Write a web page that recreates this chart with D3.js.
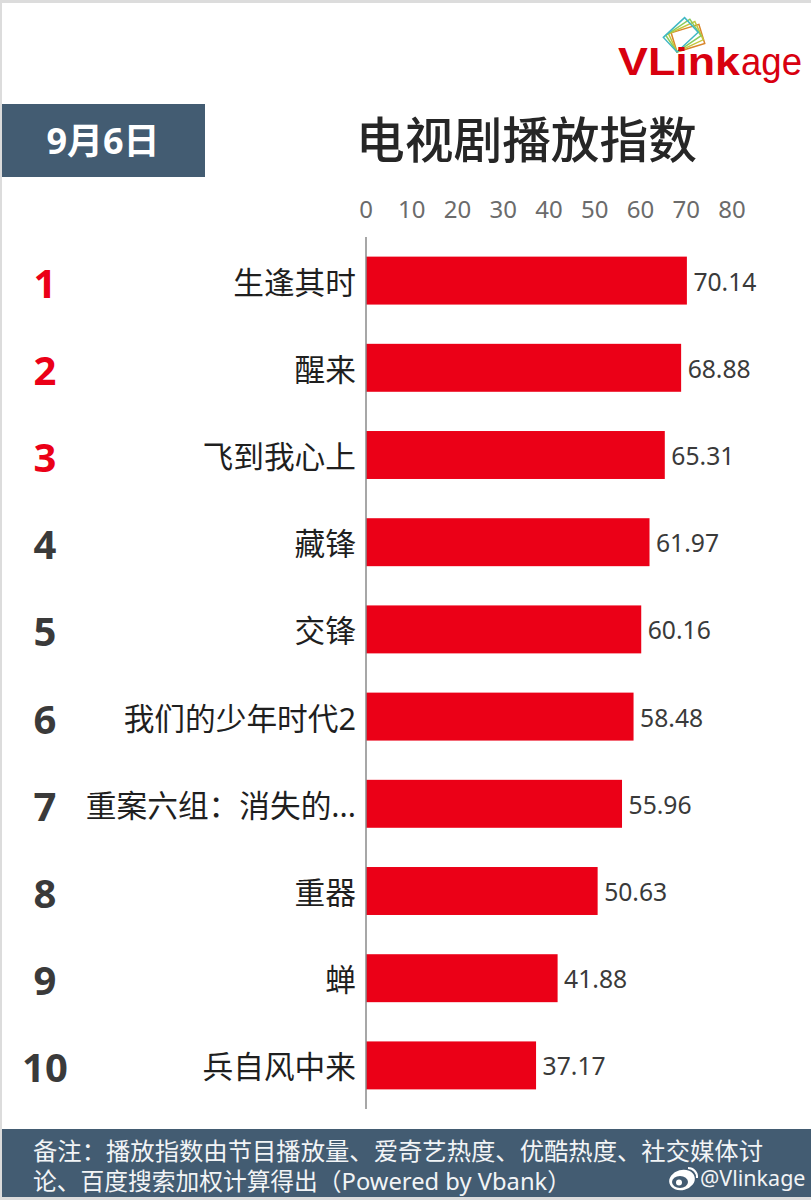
<!DOCTYPE html>
<html>
<head>
<meta charset="utf-8">
<script src="https://cdn.jsdelivr.net/npm/d3@7"></script>
<style>
html, body { margin: 0; padding: 0; background: #fff; }
svg { display: block; }
text { font-family: "Noto Sans", "Noto Sans CJK SC", sans-serif; }
</style>
</head>
<body>
<div id="chart"></div>
<script>
var ranks = ["1", "2", "3", "4", "5", "6", "7", "8", "9", "10"];
var names = ["生逢其时", "醒来", "飞到我心上", "藏锋", "交锋", "我们的少年时代2", "重案六组：消失的...", "重器", "蝉", "兵自风中来"];
var values = [70.14, 68.88, 65.31, 61.97, 60.16, 58.48, 55.96, 50.63, 41.88, 37.17];
var ticks = [0, 10, 20, 30, 40, 50, 60, 70, 80];
var noteLines = ["备注：播放指数由节目播放量、爱奇艺热度、优酷热度、社交媒体讨", "论、百度搜索加权计算得出（Powered by Vbank）"];

var width = 811, height = 1200;
var navy = "#435c72", red = "#eb0017", dark = "#3a3a3a";

var svg = d3.select("#chart").append("svg")
    .attr("width", width)
    .attr("height", height);

// frame of the picture
svg.append("rect").attr("width", width).attr("height", height).attr("fill", "#dcdcdc");
svg.append("rect").attr("x", 2).attr("y", 3).attr("width", width - 2).attr("height", height - 6).attr("fill", "#fff");

var x = d3.scaleLinear().domain([0, 80]).range([366, 732]);
var y = d3.scaleBand().domain(ranks).range([237, 1109]).paddingInner(0.45).paddingOuter(0.225);

// logo: cards fan out from their bottom corner
var cards = [["#d9862a", -17], ["#c4c63c", -25], ["#8ccb5a", -34], ["#3fb8c4", -43]];
svg.append("g").attr("transform", "translate(677,52)")
    .selectAll("rect").data(cards).enter().append("rect")
    .attr("x", 0).attr("y", -20)
    .attr("width", 29).attr("height", 20)
    .attr("fill", "none")
    .attr("stroke", function(d){ return d[0]; })
    .attr("stroke-width", 1.5)
    .attr("transform", function(d){ return "rotate(" + d[1] + ")"; });
svg.append("text")
    .attr("x", 618).attr("y", 75)
    .attr("fill", "#d8000f")
    .attr("textLength", 122).attr("lengthAdjust", "spacingAndGlyphs")
    .style("font-family", "'Liberation Sans', sans-serif")
    .style("font-size", "38px").style("font-weight", "bold")
    .text("VLink");
svg.append("text")
    .attr("x", 741).attr("y", 75)
    .attr("fill", "#d8000f")
    .attr("textLength", 61).attr("lengthAdjust", "spacingAndGlyphs")
    .style("font-family", "'Liberation Sans', sans-serif")
    .style("font-size", "38px")
    .text("age");

// date box and title
svg.append("rect").attr("x", 2).attr("y", 104).attr("width", 203).attr("height", 73).attr("fill", navy);
svg.append("text")
    .attr("x", 103).attr("y", 154)
    .attr("text-anchor", "middle")
    .attr("fill", "#fff")
    .style("font-size", "36px").style("font-weight", "bold")
    .text("9月6日");
svg.append("text")
    .attr("x", 526.5).attr("y", 158)
    .attr("text-anchor", "middle")
    .attr("fill", "#262626")
    .style("font-size", "48.7px").style("font-weight", "500")
    .text("电视剧播放指数");

// top axis
var axis = d3.axisTop(x).tickValues(ticks).tickSize(0).tickPadding(0);
var axisG = svg.append("g").attr("transform", "translate(-0.5,218)").call(axis);
axisG.select(".domain").remove();
axisG.selectAll("text")
    .attr("fill", "#6b6b6b")
    .style("font-size", "24px");

// bars
svg.selectAll(".bar").data(values).enter().append("rect")
    .attr("class", "bar")
    .attr("x", x(0))
    .attr("y", function(d, i){ return y(ranks[i]); })
    .attr("width", function(d){ return x(d) - x(0); })
    .attr("height", y.bandwidth())
    .attr("fill", red);

svg.append("line")
    .attr("x1", x(0)).attr("x2", x(0))
    .attr("y1", 237).attr("y2", 1109)
    .attr("stroke", "#8a8a8a")
    .attr("stroke-width", 1.5);

function rowMid(i){ return y(ranks[i]) + y.bandwidth() / 2; }

// value labels
svg.selectAll(".value").data(values).enter().append("text")
    .attr("class", "value")
    .attr("x", function(d){ return x(d) + 6.5; })
    .attr("y", function(d, i){ return rowMid(i) + 10; })
    .attr("fill", dark)
    .style("font-size", "24.7px")
    .text(function(d){ return d.toFixed(2); });

// category names
svg.selectAll(".name").data(names).enter().append("text")
    .attr("class", "name")
    .attr("x", 356)
    .attr("y", function(d, i){ return rowMid(i) + 13; })
    .attr("text-anchor", "end")
    .attr("fill", "#1f1f1f")
    .style("font-size", "30.7px")
    .text(function(d){ return d; });

// rank numbers
svg.selectAll(".rank").data(ranks).enter().append("text")
    .attr("class", "rank")
    .attr("x", 45)
    .attr("y", function(d, i){ return rowMid(i) + 17; })
    .attr("text-anchor", "middle")
    .attr("fill", function(d, i){ return i < 3 ? red : dark; })
    .style("font-size", "40px").style("font-weight", "bold")
    .text(function(d){ return d; });

// footer note
svg.append("rect").attr("x", 2).attr("y", 1129).attr("width", width - 2).attr("height", 68).attr("fill", navy);
var noteWidths = [730, 538];
svg.selectAll(".note").data(noteLines).enter().append("text")
    .attr("class", "note")
    .attr("x", 33)
    .attr("y", function(d, i){ return 1160 + i * 30; })
    .attr("fill", "#f2f4f6")
    .attr("textLength", function(d, i){ return noteWidths[i]; })
    .attr("lengthAdjust", "spacingAndGlyphs")
    .style("font-size", "24.3px")
    .text(function(d){ return d; });

// weibo mark
var weibo = svg.append("g").attr("transform", "translate(682,1180)");
weibo.append("ellipse").attr("rx", 13).attr("ry", 10).attr("transform", "rotate(-15)").attr("fill", "#fff");
weibo.append("ellipse").attr("cx", -2).attr("cy", 2).attr("rx", 8).attr("ry", 6).attr("fill", navy);
weibo.append("circle").attr("cx", -3).attr("cy", 2.5).attr("r", 3).attr("fill", "#fff");
weibo.append("path").attr("d", "M6,-12 A9,9 0 0 1 15,-2 M6,-7 A4,4 0 0 1 10,-3")
    .attr("fill", "none").attr("stroke", "#fff").attr("stroke-width", 2);
svg.append("text")
    .attr("x", 700).attr("y", 1186)
    .attr("fill", "#f2f4f6")
    .style("font-size", "21.5px")
    .text("@Vlinkage");
</script>
</body>
</html>
